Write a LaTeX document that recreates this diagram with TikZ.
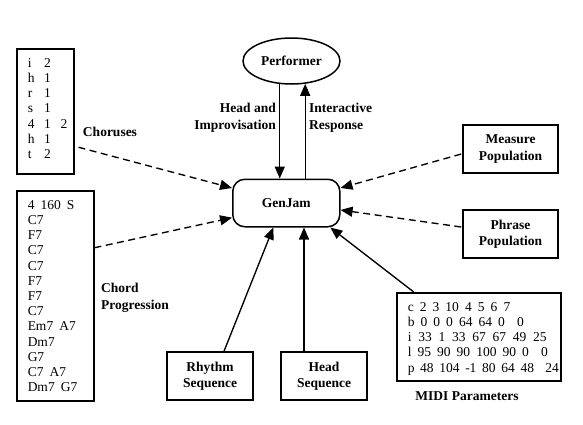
\documentclass[tikz,border=0pt]{standalone}
\usepackage{fontspec}
\setmainfont{Liberation Serif}
\usetikzlibrary{arrows.meta,shapes.geometric}

\begin{document}
\begin{tikzpicture}[x=1pt,y=-1pt]
	\tikzstyle{every node}+=[inner sep=0pt]
	\tikzstyle{lbl}=[font=\bfseries\fontsize{13.5}{16.5}\selectfont, align=center]
	\tikzstyle{unit}=[lbl, draw, line width=1.5pt, minimum width=86pt, minimum height=48pt]
	\tikzstyle{data}=[draw, line width=1.5pt, inner xsep=11pt, inner ysep=8pt, anchor=north west, font={\fontsize{13.5}{15.2}\selectfont\spaceskip=0.45em\relax}]
	\tikzstyle{flow}=[-{Triangle[length=12pt,width=10pt]}, line width=1.35pt]
	\tikzstyle{feed}=[flow, dash pattern=on 7pt off 4.5pt]
	\useasboundingbox (0,0) rectangle (583,424);
	% centre
	\node [draw, ellipse, lbl, line width=1.5pt, minimum width=97pt, minimum height=46pt] (perf) at (291.5,61) {Performer};
	\node [draw, lbl, rounded corners=12pt, line width=1.5pt, minimum width=107pt, minimum height=47.5pt] (gen) at (286.3,203) {GenJam};
	\draw [flow] (perf.243) -- (perf.243 |- gen.north);
	\draw [flow] (perf.301 |- gen.north) -- (perf.301);
	\node [lbl, anchor=east, align=right] (hilbl) at (276,117.5) {Head and\\Improvisation};
	\node [lbl, anchor=west, align=left] (irlbl) at (309,117.5) {Interactive\\Response};
	% left
	\node [data] (chor) at (16,48) {\parbox[c][109pt][t]{35pt}{\begin{tabular}[t]{@{}p{16.5pt}@{}p{16.5pt}@{}l@{}}
		i & 2 \\ h & 1 \\ r & 1 \\ s & 1 \\ 4 & 1 & 2 \\ h & 1 \\ t & 2
	\end{tabular}}};
	\node [lbl] (chorlbl) at (110,132) {Choruses};
	\node [data] (chord) at (16,190) {\parbox[c][194pt][t]{55pt}{\begin{tabular}[t]{@{}l@{}}
		4 160 S \\ C7 \\ F7 \\ C7 \\ C7 \\ F7 \\ F7 \\ C7 \\ Em7 A7 \\ Dm7 \\ G7 \\ C7 A7 \\ Dm7 G7
	\end{tabular}}};
	\node [lbl, anchor=west, align=left] (chordlbl) at (101,298) {Chord\\Progression};
	\draw [feed] ([xshift=4pt,yshift=-36pt]chor.east) -- ([yshift=15pt]gen.west);
	\draw [feed] ([yshift=48pt]chord.east) -- ([yshift=-14.7pt]gen.west);
	% right
	\node [unit, minimum width=95pt] (meas) at (510.5,149) {Measure\\Population};
	\node [unit, minimum width=95pt] (phr) at (510.5,234) {Phrase\\Population};
	\draw [feed] ([xshift=-1pt,yshift=-5pt]meas.west) -- ([yshift=15pt]gen.east);
	\draw [feed] ([xshift=-1pt,yshift=7pt]phr.west) -- ([yshift=-7pt]gen.east);
	% bottom
	\node [unit] (rhy) at (210,376) {Rhythm\\Sequence};
	\node [unit] (hseq) at (324,376) {Head\\Sequence};
	\node [data] (midi) at (396,292) {\parbox[c][72pt][t]{142pt}{\begin{tabular}[t]{@{}l@{}}
		c 2 3 10 4 5 6 7 \\
		b 0 0 0 64 64 0~ 0 \\
		\spaceskip=0.5em i 33 1 33 67 67 49 25 \\
		l 95 90 90 100 90 0~ 0 \\
		\spaceskip=0.42em p 48 104 -1 80 64 48~ 24
	\end{tabular}}};
	\node [lbl] (midilbl) at (467,396) {MIDI Parameters};
	\draw [flow] ([xshift=14pt]rhy.north) -- ([xshift=-13pt]gen.south);
	\draw [flow] ([xshift=-20pt]hseq.north) -- ([xshift=-20pt]hseq.north |- gen.south);
	\draw [flow] ([xshift=-65pt]midi.north) -- ([xshift=44pt]gen.south);
\end{tikzpicture}
\end{document}
